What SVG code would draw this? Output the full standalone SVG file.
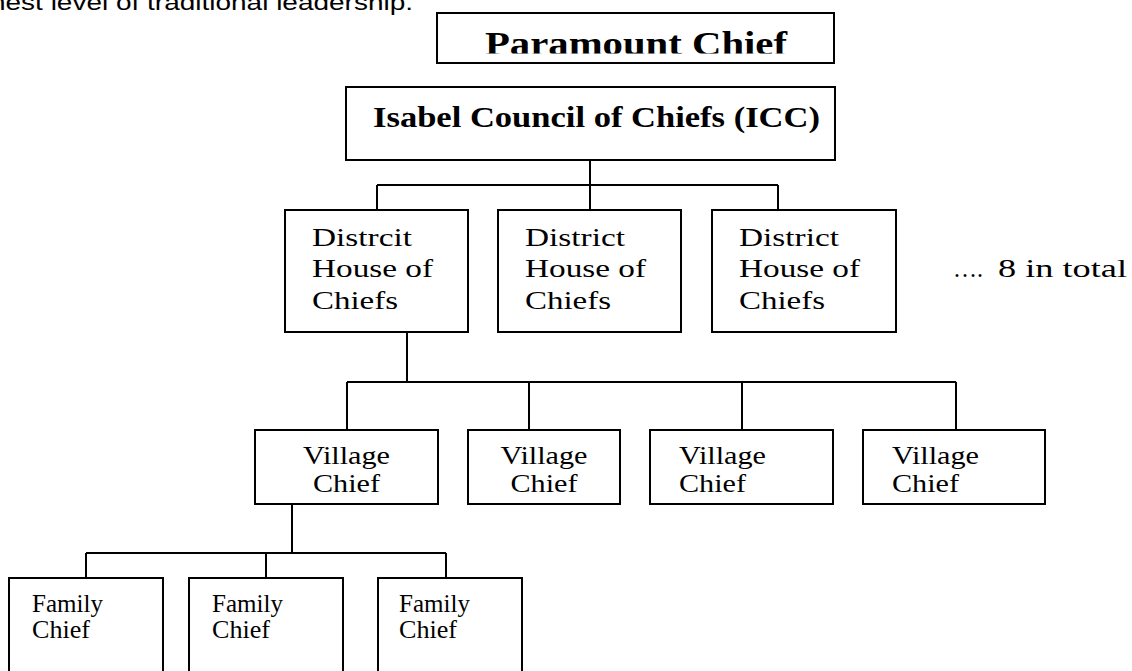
<svg xmlns="http://www.w3.org/2000/svg" width="1132" height="671" viewBox="0 0 1132 671">
<defs>
<style>
.box{fill:#fff;stroke:#000;stroke-width:2}
.ln{fill:none;stroke:#000;stroke-width:2}
.t{font-family:"Liberation Serif","Times New Roman",serif;font-size:25px;fill:#000}
.b{font-family:"Liberation Serif","Times New Roman",serif;font-weight:bold;fill:#000}
.c{text-anchor:middle}
</style>
<clipPath id="pclip"><rect x="438" y="14" width="395" height="39.5"/></clipPath>
</defs>
<rect width="1132" height="671" fill="#fff"/>
<text x="-10" y="10" font-family="'Liberation Sans',Arial,sans-serif" font-size="22" textLength="423" lengthAdjust="spacingAndGlyphs">hest level of traditional leadership.</text>

<g id="connectors">
<path class="ln" d="M590 160V185M377 185H778M377 185V210M590 185V210M778 185V210"/>
<path class="ln" d="M407 332V382M347 382H956M347 382V430M529 382V430M742 382V430M956 382V430"/>
<path class="ln" d="M292 504V553M86 553H446M86 553V578M266 553V578M446 553V578"/>
</g>

<g id="paramount">
<rect class="box" x="437" y="13" width="397" height="50"/>
<text class="b" x="485" y="55" font-size="33" textLength="302" lengthAdjust="spacingAndGlyphs" clip-path="url(#pclip)">Paramount Chief</text>
</g>

<g id="icc">
<rect class="box" x="346" y="87" width="489" height="73"/>
<text class="b" x="373" y="127" font-size="30" textLength="447" lengthAdjust="spacingAndGlyphs">Isabel Council of Chiefs (ICC)</text>
</g>

<g id="district1">
<rect class="box" x="285" y="210" width="183" height="122"/>
<text class="t" x="312" y="246" textLength="100" lengthAdjust="spacingAndGlyphs">Distrcit</text>
<text class="t" x="312" y="277" textLength="121" lengthAdjust="spacingAndGlyphs">House of</text>
<text class="t" x="312" y="309" textLength="86" lengthAdjust="spacingAndGlyphs">Chiefs</text>
</g>
<g id="district2">
<rect class="box" x="498" y="210" width="183" height="122"/>
<text class="t" x="525" y="246" textLength="100" lengthAdjust="spacingAndGlyphs">District</text>
<text class="t" x="525" y="277" textLength="121" lengthAdjust="spacingAndGlyphs">House of</text>
<text class="t" x="525" y="309" textLength="86" lengthAdjust="spacingAndGlyphs">Chiefs</text>
</g>
<g id="district3">
<rect class="box" x="712" y="210" width="184" height="122"/>
<text class="t" x="739" y="246" textLength="100" lengthAdjust="spacingAndGlyphs">District</text>
<text class="t" x="739" y="277" textLength="121" lengthAdjust="spacingAndGlyphs">House of</text>
<text class="t" x="739" y="309" textLength="86" lengthAdjust="spacingAndGlyphs">Chiefs</text>
</g>
<g id="note">
<text class="t" x="953" y="277" textLength="30" lengthAdjust="spacingAndGlyphs">….</text>
<text class="t" x="998" y="277" textLength="129" lengthAdjust="spacingAndGlyphs">8 in total</text>
</g>

<g id="village1">
<rect class="box" x="255" y="430" width="183" height="74"/>
<text class="t c" x="346.5" y="464" textLength="87" lengthAdjust="spacingAndGlyphs">Village</text>
<text class="t c" x="346.5" y="491.5" textLength="67" lengthAdjust="spacingAndGlyphs">Chief</text>
</g>
<g id="village2">
<rect class="box" x="468" y="430" width="152" height="74"/>
<text class="t c" x="544" y="464" textLength="87" lengthAdjust="spacingAndGlyphs">Village</text>
<text class="t c" x="544" y="491.5" textLength="67" lengthAdjust="spacingAndGlyphs">Chief</text>
</g>
<g id="village3">
<rect class="box" x="650" y="430" width="183" height="74"/>
<text class="t" x="679" y="464" textLength="87" lengthAdjust="spacingAndGlyphs">Village</text>
<text class="t" x="679" y="491.5" textLength="67" lengthAdjust="spacingAndGlyphs">Chief</text>
</g>
<g id="village4">
<rect class="box" x="863" y="430" width="182" height="74"/>
<text class="t" x="892" y="464" textLength="87" lengthAdjust="spacingAndGlyphs">Village</text>
<text class="t" x="892" y="491.5" textLength="67" lengthAdjust="spacingAndGlyphs">Chief</text>
</g>

<g id="family1">
<rect class="box" x="9" y="578" width="154" height="110"/>
<text class="t" x="32" y="611.5" textLength="71" lengthAdjust="spacingAndGlyphs">Family</text>
<text class="t" x="32" y="638" textLength="58" lengthAdjust="spacingAndGlyphs">Chief</text>
</g>
<g id="family2">
<rect class="box" x="189" y="578" width="154" height="110"/>
<text class="t" x="212" y="611.5" textLength="71" lengthAdjust="spacingAndGlyphs">Family</text>
<text class="t" x="212" y="638" textLength="58" lengthAdjust="spacingAndGlyphs">Chief</text>
</g>
<g id="family3">
<rect class="box" x="378" y="578" width="144" height="110"/>
<text class="t" x="399" y="611.5" textLength="71" lengthAdjust="spacingAndGlyphs">Family</text>
<text class="t" x="399" y="638" textLength="58" lengthAdjust="spacingAndGlyphs">Chief</text>
</g>
</svg>
